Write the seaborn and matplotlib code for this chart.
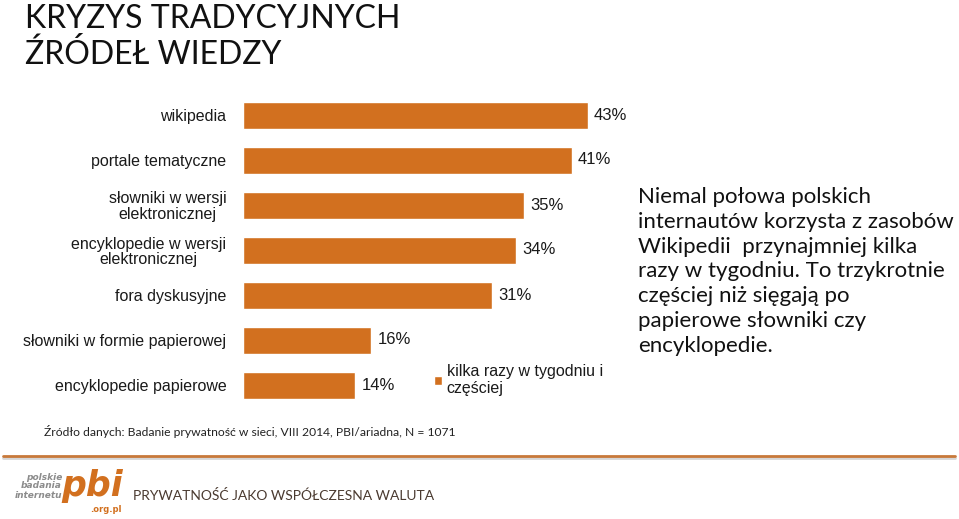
import matplotlib
matplotlib.use("Agg")
import matplotlib.pyplot as plt
import seaborn as sns
import pandas as pd
from matplotlib.lines import Line2D

categories = [
    "wikipedia",
    "portale tematyczne",
    "słowniki w wersji\nelektronicznej",
    "encyklopedie w wersji\nelektronicznej",
    "fora dyskusyjne",
    "słowniki w formie papierowej",
    "encyklopedie papierowe",
]
values = [43, 41, 35, 34, 31, 16, 14]
series_name = "kilka razy w tygodniu i\nczęściej"

title_lines = ["KRYZYS TRADYCYJNYCH", "ŹRÓDEŁ WIEDZY"]
note = ("Niemal połowa polskich\ninternautów korzysta z zasobów\nWikipedii  przynajmniej kilka\n"
        "razy w tygodniu. To trzykrotnie\nczęściej niż sięgają po\npapierowe słowniki czy\nencyklopedie.")
source = "Źródło danych: Badanie prywatność w sieci, VIII 2014, PBI/ariadna, N = 1071"
footer = "PRYWATNOŚĆ JAKO WSPÓŁCZESNA WALUTA"

BAR = "#D2701F"
W, H = 959, 519

sns.set_theme(style="white")
plt.rcParams["font.family"] = ["Liberation Sans", "DejaVu Sans"]

fig = plt.figure(figsize=(W / 100, H / 100), dpi=100)

px_per_pct = 8.02
ax_left = 243
ax_right = 620
top_px, bot_px = 92.5, 407.5
ax = fig.add_axes([ax_left / W, 1 - bot_px / H, (ax_right - ax_left) / W, (bot_px - top_px) / H])

df = pd.DataFrame({"kategoria": categories, "wartosc": values})
sns.barplot(data=df, x="wartosc", y="kategoria", color=BAR, width=0.6,
            saturation=1, ax=ax, label=series_name)
ax.set_xlim(0, (ax_right - ax_left) / px_per_pct)
ax.set_ylim(len(categories) - 0.5, -0.5)
ax.set_xlabel("")
ax.set_ylabel("")
ax.set_xticks([])
for s in ax.spines.values():
    s.set_visible(False)
ax.tick_params(axis="y", length=0, pad=12, labelsize=11.5, labelcolor="#1a1a1a")
for lbl in ax.get_yticklabels():
    lbl.set_horizontalalignment("right")
    lbl.set_multialignment("center")
    lbl.set_linespacing(1.05)

for i, v in enumerate(values):
    ax.annotate(f"{v}%", (v, i), xytext=(4.5, 0), textcoords="offset points",
                va="center", ha="left", fontsize=12, color="#1a1a1a")

ax.legend(loc="upper left", bbox_to_anchor=(434 / W, 1 - 364 / H),
          bbox_transform=fig.transFigure, frameon=False, fontsize=11.5,
          handlelength=0.5, handleheight=0.5, handletextpad=0.3,
          borderpad=0, borderaxespad=0, labelcolor="#1a1a1a", labelspacing=0.2)

# title
fig.text(25 / W, 1 - 28 / H, title_lines[0], ha="left", va="baseline", fontsize=23,
         family=["Lato", "DejaVu Sans"], color="#111111")
fig.text(25 / W, 1 - 64 / H, title_lines[1], ha="left", va="baseline", fontsize=23,
         family=["Lato", "DejaVu Sans"], color="#111111")

# right note
fig.text(638 / W, 1 - 187 / H, note, ha="left", va="top", fontsize=16,
         family=["Lato", "DejaVu Sans"], color="#111111", linespacing=1.3)

# source
fig.text(44 / W, 1 - 432 / H, source, ha="left", va="center", fontsize=8.7,
         family=["Lato", "DejaVu Sans"], color="#222222")

# separator line with shadow
fig.add_artist(Line2D([3 / W, 955 / W], [1 - 458 / H, 1 - 458 / H], color="#bbbbbb",
                      lw=2.0, transform=fig.transFigure, alpha=0.6))
fig.add_artist(Line2D([3 / W, 955 / W], [1 - 456 / H, 1 - 456 / H], color="#C8793A",
                      lw=2.0, transform=fig.transFigure))

# logo
fig.text(62 / W, 1 - 486 / H, "polskie\nbadania\ninternetu", ha="right", va="center",
         fontsize=6.5, fontweight="bold", style="italic", color="#8c8c8c",
         linespacing=1.0, family=["DejaVu Sans"])
fig.text(61 / W, 1 - 486 / H, "pbi", ha="left", va="center", fontsize=25,
         fontweight="bold", style="italic", color="#D2701F", family=["DejaVu Sans"])
fig.text(90 / W, 1 - 510 / H, ".org.pl", ha="left", va="center", fontsize=6,
         fontweight="bold", color="#D2701F", family=["DejaVu Sans"])

# footer
fig.text(133 / W, 1 - 495 / H, footer, ha="left", va="center", fontsize=10,
         family=["Lato", "DejaVu Sans"], color="#4a3a30")

fig.savefig("out.png", dpi=100)
